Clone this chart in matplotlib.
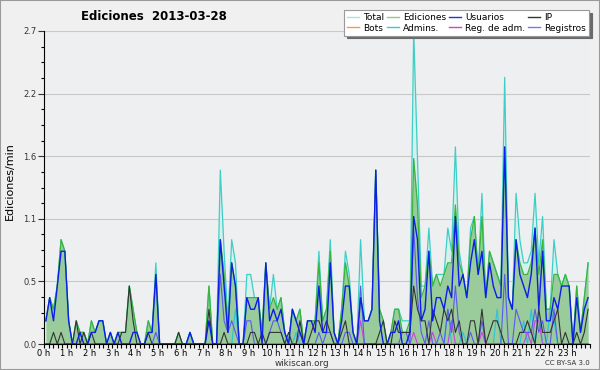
import numpy as np
import matplotlib.pyplot as plt
from matplotlib.lines import Line2D
from matplotlib.patches import Rectangle
from matplotlib.ticker import MultipleLocator

# ediciones por minuto, un punto cada 10 minutos (6 por hora, 0 h .. 23 h)
total = [
    .2, .4, .3, .5, .9, .8,   .2, 0, .2, .1, .1, 0,     .2, .1, .2, .2, 0, .1,
    0, .1, .1, .1, .5, .3,    .1, 0, 0, .2, .1, .7,     0, 0, 0, 0, 0, .1,
    0, 0, .1, 0, 0, 0,        0, .5, 0, 0, 1.5, .8,     .2, .9, .7, 0, 0, .6,
    .6, .4, .4, .1, .7, .3,   .6, .3, .4, .1, 0, .3,    .2, .3, 0, .2, .2, .2,
    .8, .2, .3, .9, .1, 0,    .3, .8, .6, .1, 0, .9,    .2, .2, .3, 1.5, .3, .2,
    0, .1, .3, .3, .2, .2,    .2, 2.7, 1.6, .5, .5, 1.0, .5, .6, .6, .6, 1.0, .8,
    1.7, .8, .6, .4, 1.0, 1.1, .6, 1.3, .4, .8, .7, .6,  .5, 2.3, .4, .3, 1.3, .9,
    .7, .7, .8, 1.3, .7, 1.1, .3, .3, .9, .6, .5, .6,   .5, 0, .5, .1, .4, .7,
]
ediciones = [
    .2, .4, .3, .5, .9, .8,   .2, 0, .2, .1, .1, 0,     .2, .1, .2, .2, 0, .1,
    0, .1, .1, .1, .5, .3,    .1, 0, 0, .2, .1, .6,     0, 0, 0, 0, 0, .1,
    0, 0, .1, 0, 0, 0,        0, .5, 0, 0, .9, .6,      .1, .7, .5, 0, 0, .4,
    .4, .4, .4, .1, .7, .3,   .4, .3, .4, .1, 0, .3,    .2, .3, 0, .2, .2, .2,
    .7, .2, .3, .8, .1, 0,    .3, .7, .5, .1, 0, .4,    .2, .2, .3, 1.5, .3, .2,
    0, .1, .3, .3, .1, .1,    .2, 1.6, 1.2, .4, .5, .8, .5, .6, .5, .6, .7, .7,
    1.2, .7, .6, .4, .9, 1.1, .6, 1.1, .4, .8, .7, .6,  .5, 1.7, .4, .3, .9, .7,
    .6, .6, .7, 1.0, .6, .9,  .3, .3, .6, .6, .5, .6,   .5, 0, .5, .1, .4, .7,
]
usuarios = [
    .2, .4, .2, .5, .8, .8,   .2, 0, 0, .1, 0, 0,       .1, .1, .2, .2, 0, .1,
    0, .1, 0, 0, 0, .1,       .1, 0, 0, .1, .1, .6,     0, 0, 0, 0, 0, 0,
    0, 0, .1, 0, 0, 0,        0, .2, 0, 0, .9, .5,      .1, .7, .5, 0, 0, .4,
    .3, .3, .4, 0, .7, .2,    .3, .2, .3, .1, 0, .3,    .2, .1, 0, .2, .2, .1,
    .5, .1, .1, .7, .1, 0,    .2, .5, .5, .1, 0, .4,    .2, .2, .3, 1.5, .2, 0,
    0, .1, .1, .2, 0, 0,      .1, 1.1, .9, .2, .3, .8,  .2, .4, .4, .3, .5, .4,
    1.1, .5, .6, .4, .7, .9,  .6, .8, .4, .7, .5, .4,   .4, 1.7, .4, .3, .9, .6,
    .5, .4, .6, 1.0, .3, .8,  .2, .2, .4, .3, .5, .5,   .5, 0, .4, .1, .3, .4,
]
ip = [
    0, 0, .1, 0, .1, 0,       0, 0, .2, 0, .1, 0,       .1, 0, 0, 0, 0, 0,
    0, 0, .1, .1, .5, .2,     0, 0, 0, .1, 0, 0,        0, 0, 0, 0, 0, .1,
    0, 0, 0, 0, 0, 0,         0, .3, 0, 0, 0, .1,       0, 0, 0, 0, 0, 0,
    .1, .1, 0, .1, 0, .1,     .1, .1, .1, 0, .1, 0,     0, .2, 0, 0, .1, .2,
    .2, .1, .2, .1, 0, 0,     .1, .2, 0, 0, 0, 0,       0, 0, 0, 0, .1, .2,
    0, 0, .2, .1, .1, .1,     .1, .5, .3, .2, .2, 0,    .3, .2, .1, .3, .2, .3,
    .1, .2, 0, 0, .2, .2,     0, .3, 0, .1, .2, .2,     .1, 0, 0, 0, 0, .1,
    .1, .2, .1, 0, .3, .1,    .1, .1, .2, .3, 0, .1,    0, 0, .1, 0, .1, .3,
]
registros = [
    0, 0, 0, 0, 0, 0,         0, 0, 0, 0, 0, 0,         0, 0, 0, 0, 0, 0,
    0, 0, 0, 0, 0, 0,         0, 0, 0, 0, 0, .1,        0, 0, 0, 0, 0, 0,
    0, 0, 0, 0, 0, 0,         0, 0, 0, 0, .6, .2,       .1, .2, .1, 0, 0, .2,
    .2, 0, 0, 0, 0, .1,       .2, .2, .1, 0, 0, 0,      0, .1, 0, 0, 0, 0,
    .1, 0, .1, .1, 0, 0,      0, .1, .1, 0, 0, .5,      0, 0, 0, 0, 0, 0,
    0, 0, 0, 0, .1, .1,       0, 1.0, .4, .1, 0, .2,    0, 0, .1, 0, .3, .1,
    .5, .1, 0, 0, .1, 0,      0, .2, 0, 0, 0, 0,        0, .6, 0, 0, .3, .2,
    .1, .1, .1, .3, .1, .2,   0, 0, .3, 0, 0, 0,        0, 0, 0, 0, 0, 0,
]
admins = [0] * 144
for i, v in [(38, .1), (50, .3), (66, .1), (106, .3), (110, .1), (119, .3),
             (126, .2), (128, .3), (130, .3), (133, .3), (134, .2)]:
    admins[i] = v
reg_adm = [0] * 144
for i, v in [(83, .2), (97, .1), (102, .1), (107, .2), (115, .1),
             (127, .1), (129, .2), (130, .2)]:
    reg_adm[i] = v
bots = [0] * 144

horas = [f'{h} h' for h in range(24)]

fig = plt.figure(figsize=(6, 3.7), dpi=100, facecolor='#f0f0f0')
ax = fig.add_axes([44 / 600, 1 - 344 / 370, 546 / 600, 313 / 370])
ax.set_facecolor('#eeeff1')

x = (np.arange(144) + 0.5) / 6

ax.fill_between(x, total, color='#d6f1ed', lw=0, zorder=1)
ax.fill_between(x, ediciones, color='#9acb9a', lw=0, zorder=1.1)
ax.plot(x, bots, color='#ff9933', lw=0.8, zorder=1.2)
ax.plot(x, total, color='#3ccfc6', lw=0.9, zorder=2)
ax.plot(x, ediciones, color='#3cb43c', lw=0.9, zorder=2.1)
ax.plot(x, admins, color='#2cc4d8', lw=0.8, zorder=2.2)
ax.plot(x, reg_adm, color='#cc44dd', lw=0.8, zorder=2.3)
ax.plot(x, registros, color='#5a5af0', lw=0.8, zorder=2.4)
ax.plot(x, ip, color='#333333', lw=0.8, zorder=2.5)
ax.plot(x, usuarios, color='#0c1ee8', lw=1.0, zorder=2.6)

ax.set_xlim(0, 24)
ax.set_ylim(0, 2.7)
ax.set_xticks(range(24))
ax.set_xticklabels(horas)
ax.xaxis.set_minor_locator(MultipleLocator(0.2))
yt = np.linspace(0, 2.7, 6)
ax.set_yticks(yt)
ax.set_yticklabels([f'{v:.1f}' for v in yt])
ax.yaxis.set_minor_locator(MultipleLocator(0.135))
ax.tick_params(axis='x', which='both', length=3, width=0.8, labelsize=6, pad=0.5)
ax.tick_params(axis='y', which='major', length=4.5, width=0.8, labelsize=6, pad=1, colors='#333333')
ax.tick_params(axis='y', which='minor', length=2.2, width=0.8)
ax.grid(axis='y', which='major', color='#c8c8c8', lw=0.8)
ax.set_axisbelow(True)
for s in ['top', 'right']:
    ax.spines[s].set_visible(False)
for s in ['left', 'bottom']:
    ax.spines[s].set_linewidth(0.8)
    ax.spines[s].set_zorder(3)

fig.text(154 / 600, 1 - 17 / 370, 'Ediciones  2013-03-28', ha='center', va='center',
         fontsize=8.5, fontweight='bold')
fig.text(10 / 600, 1 - 181 / 370, 'Ediciones/min', rotation=90, ha='center', va='center',
         fontsize=8)
fig.text(302 / 600, 1 - 363 / 370, 'wikiscan.org', ha='center', va='center',
         fontsize=6.3, color='#333333')
fig.text(590 / 600, 1 - 363 / 370, 'CC BY-SA 3.0', ha='right', va='center',
         fontsize=5, color='#333333')

# leyenda (orden por columnas)
etiquetas = ['Total', 'Bots', 'Ediciones', 'Admins.', 'Usuarios', 'Reg. de adm.', 'IP', 'Registros']
colores = ['#a8e4e4', '#ff9933', '#88d088', '#33ccdd', '#2233dd', '#cc44dd', '#333333', '#7777ee']
handles = [Line2D([], [], color=c, lw=1) for c in colores]
leg = fig.legend(handles, etiquetas, ncol=4, loc='upper right',
                 bbox_to_anchor=(589 / 600, 1 - 10 / 370), fontsize=6.5,
                 frameon=True, fancybox=False, shadow={'color': '#6a6a6a', 'alpha': 1},
                 handlelength=1.3, handletextpad=0.45, columnspacing=0.35,
                 labelspacing=0.15, borderpad=0.35, borderaxespad=0)
leg.get_frame().set_edgecolor('#999999')
leg.get_frame().set_linewidth(0.8)
leg.get_frame().set_facecolor('white')

fig.patches.append(Rectangle((0, 0), 1, 1, transform=fig.transFigure, fill=False,
                             ec='#9a9a9a', lw=1.5))

fig.savefig('out.png', dpi=100, facecolor=fig.get_facecolor())
